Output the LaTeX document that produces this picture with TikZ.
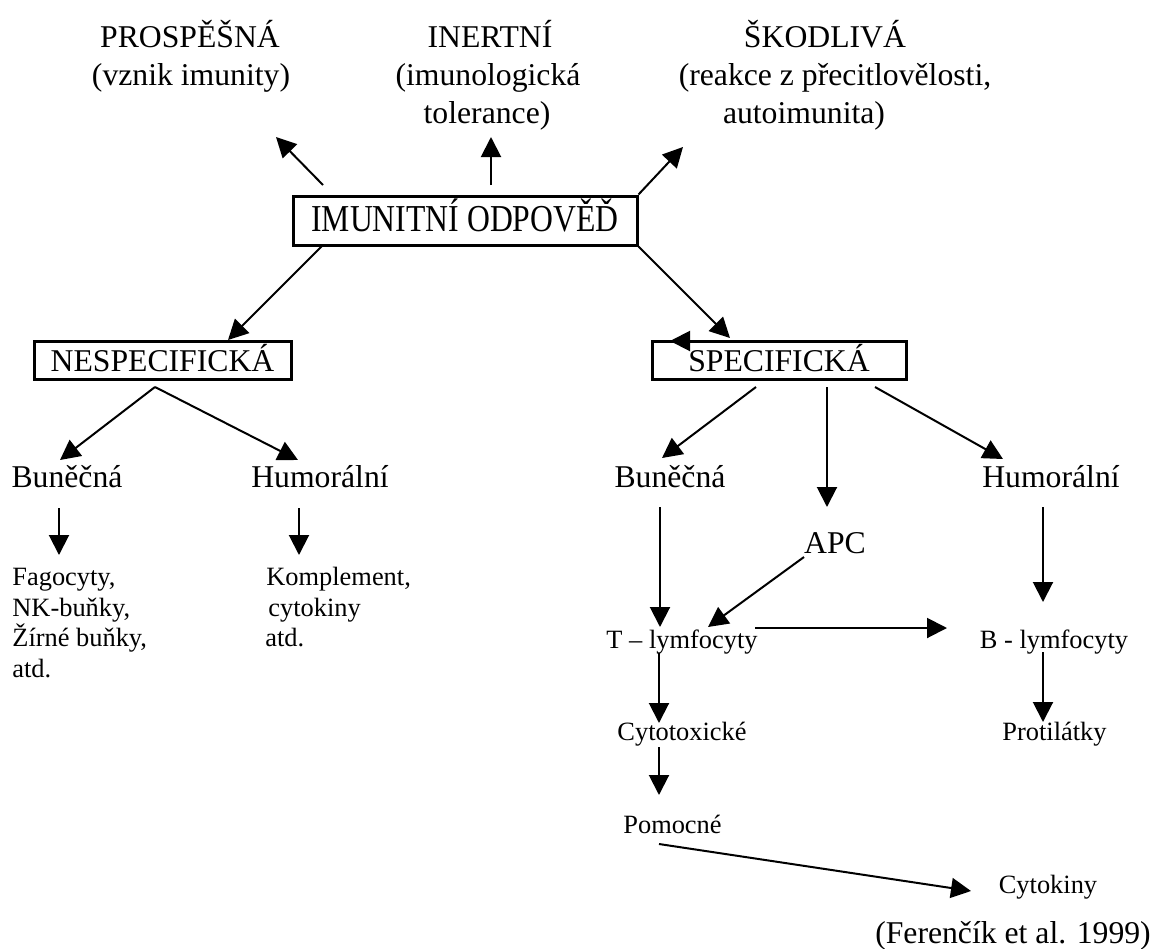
\documentclass[tikz,border=0pt]{standalone}
\usepackage{fontspec}
\setmainfont{Liberation Serif}
\usetikzlibrary{arrows.meta}
\newcommand\lgfont{\fontsize{15.85pt}{19pt}\selectfont}
\newcommand\smfont{\fontsize{13.2pt}{15.25pt}\selectfont}
\begin{document}
\begin{tikzpicture}[x=0.5pt,y=-0.5pt,
  lbl/.style={inner sep=0pt,anchor=base,font=\lgfont},
  sml/.style={inner sep=0pt,anchor=base,font=\smfont},
  smlw/.style={inner sep=0pt,anchor=base west,font=\smfont},
  box/.style={draw,line width=1.5pt,inner sep=0pt,font=\lgfont,text height=11.25pt,text depth=0pt},
  arr/.style={line width=1pt,-{Triangle[length=10pt,width=10pt]}}]
\useasboundingbox (0,0) rectangle (1153,949);

% top outcomes
\node[lbl] (pro1) at (190,47) {PROSPĚŠNÁ};
\node[lbl] (pro2) at (191,85) {(vznik imunity)};
\node[lbl] (ine1) at (490,47) {INERTNÍ};
\node[lbl] (ine2) at (488,85) {(imunologická};
\node[lbl] (ine3) at (487,123) {tolerance)};
\node[lbl] (sko1) at (825,47) {ŠKODLIVÁ};
\node[lbl] (sko2) at (835,85) {(reakce z přecitlovělosti,};
\node[lbl] (sko3) at (804,123) {autoimunita)};

% boxes
\node[box,minimum width=172pt,minimum height=24.5pt] (imun) at (465,220.5) {\scalebox{1}[1.2]{IMUNITNÍ ODPOVĚĎ}};
\node[box,minimum width=128.5pt,minimum height=19pt] (nesp) at (162.5,360) {NESPECIFICKÁ};
\node[box,minimum width=127pt,minimum height=19pt] (spec) at (779,360) {SPECIFICKÁ};

% nonspecific branch
\node[lbl] (nbun) at (67,487) {Buněčná};
\node[lbl] (nhum) at (320,487) {Humorální};
\node[smlw] (fag1) at (12,585.5) {Fagocyty,};
\node[smlw] (fag2) at (12,616) {NK-buňky,};
\node[smlw] (fag3) at (12,646.5) {Žírné buňky,};
\node[smlw] (fag4) at (12,677) {atd.};
\node[smlw] (kom1) at (266,585.5) {Komplement,};
\node[smlw] (kom2) at (268,616) {cytokiny};
\node[smlw] (kom3) at (265,646.5) {atd.};

% specific branch
\node[lbl] (sbun) at (670,487) {Buněčná};
\node[lbl] (shum) at (1051,487) {Humorální};
\node[lbl] (apc) at (835,553) {APC};
\node[sml] (tly) at (682,648) {T – lymfocyty};
\node[sml] (bly) at (1054,648) {B - lymfocyty};
\node[sml] (cyt) at (682,740) {Cytotoxické};
\node[sml] (prot) at (1054.5,740) {Protilátky};
\node[sml] (pom) at (672.5,833) {Pomocné};
\node[sml] (cytk) at (1048,893) {Cytokiny};
\node[lbl] (src) at (1013,943) {(Ferenčík et al. 1999)};

% connector end points
\coordinate (u1s) at (323,185); \coordinate (u1e) at (276,137);
\coordinate (u2s) at (491,185); \coordinate (u2e) at (491,137);
\coordinate (u3e) at (683,147);
\coordinate (dns) at (323,245); \coordinate (dne) at (228,340);
\coordinate (dse) at (730,338);
\coordinate (nap) at (155,387); \coordinate (nbe) at (60,460); \coordinate (nhe) at (298,460);
\coordinate (nbds) at (59,508); \coordinate (nbde) at (59,555);
\coordinate (nhds) at (299,508); \coordinate (nhde) at (299,555);
\coordinate (hdla) at (692,341); \coordinate (hdlb) at (670,341);
\coordinate (sbs) at (756,387); \coordinate (sbe) at (662,458);
\coordinate (sas) at (827,387); \coordinate (sae) at (827,507);
\coordinate (shs) at (875,387); \coordinate (she) at (1003,459);
\coordinate (bvs) at (660,507); \coordinate (bve) at (660,627);
\coordinate (aps) at (804,557); \coordinate (ape) at (708,627);
\coordinate (ths) at (755,628); \coordinate (the) at (947,628);
\coordinate (hvs) at (1043,507); \coordinate (hve) at (1043,602);
\coordinate (bps) at (1043,652); \coordinate (bpe) at (1043,722);
\coordinate (tcs) at (659,653); \coordinate (tce) at (659,723);
\coordinate (cps) at (659,747); \coordinate (cpe) at (659,795);
\coordinate (pks) at (659,844); \coordinate (pke) at (971,891);

% connectors
\draw[arr] (u1s) -- (u1e);
\draw[arr] (u2s) -- (u2e);
\draw[arr] (imun.north east) -- (u3e);
\draw[arr] (dns) -- (dne);
\draw[arr] (imun.south east) -- (dse);
\draw[arr] (hdla) -- (hdlb);
\draw[arr] (nap) -- (nbe);
\draw[arr] (nap) -- (nhe);
\draw[arr] (nbds) -- (nbde);
\draw[arr] (nhds) -- (nhde);
\draw[arr] (sbs) -- (sbe);
\draw[arr] (sas) -- (sae);
\draw[arr] (shs) -- (she);
\draw[arr] (bvs) -- (bve);
\draw[arr] (aps) -- (ape);
\draw[arr] (ths) -- (the);
\draw[arr] (hvs) -- (hve);
\draw[arr] (bps) -- (bpe);
\draw[arr] (tcs) -- (tce);
\draw[arr] (cps) -- (cpe);
\draw[arr] (pks) -- (pke);
\end{tikzpicture}
\end{document}
